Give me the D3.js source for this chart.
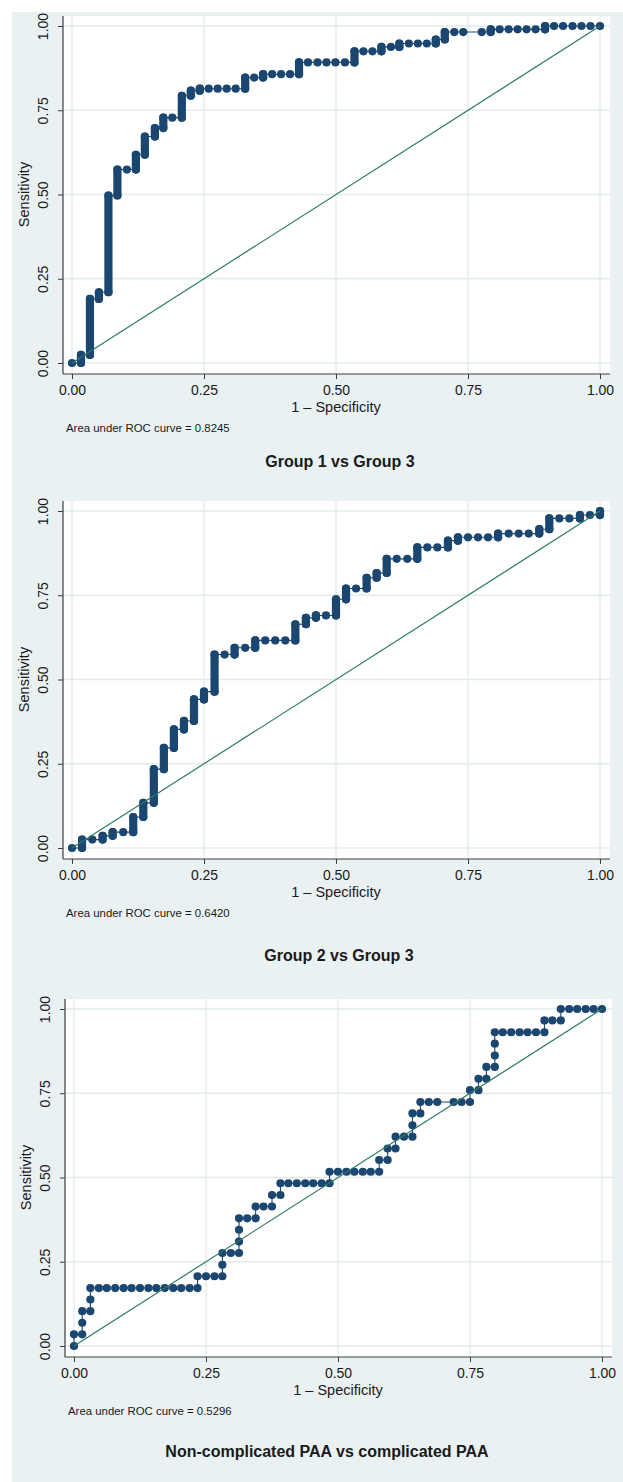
<!DOCTYPE html>
<html>
<head>
<meta charset="utf-8">
<script src="https://cdn.jsdelivr.net/npm/d3@7"></script>
<style>
    body { margin: 0; background: #fff; }
    text { font-family: "Liberation Sans", Arial, sans-serif; fill: #1a1a1a; }
</style>
</head>
<body>
<div id="chart-area"></div>
<script>

// axis ticks
var tickVals = [0, 0.25, 0.5, 0.75, 1];
var tickLabels = ['0.00', '0.25', '0.50', '0.75', '1.00'];

var titles = ['Group 1 vs Group 3', 'Group 2 vs Group 3', 'Non-complicated PAA vs complicated PAA'];
var aucLabels = ['Area under ROC curve = 0.8245', 'Area under ROC curve = 0.6420', 'Area under ROC curve = 0.5296'];

// [1 - specificity, sensitivity]
var roc1 = [
    [0,0],
    [0.017,0],[0.017,0.024],
    [0.034,0.024],[0.034,0.19],
    [0.051,0.19],[0.051,0.21],
    [0.069,0.21],[0.069,0.497],
    [0.086,0.497],[0.086,0.574],
    [0.104,0.574],
    [0.121,0.574],[0.121,0.618],
    [0.138,0.618],[0.138,0.672],
    [0.157,0.672],[0.157,0.697],
    [0.173,0.697],[0.173,0.728],
    [0.19,0.728],
    [0.208,0.728],[0.208,0.793],
    [0.225,0.793],[0.225,0.808],
    [0.242,0.808],[0.242,0.814],
    [0.259,0.814],[0.276,0.814],[0.293,0.814],[0.31,0.814],
    [0.328,0.814],[0.328,0.847],
    [0.345,0.847],
    [0.362,0.847],[0.362,0.857],
    [0.379,0.857],[0.396,0.857],[0.413,0.857],
    [0.43,0.857],[0.43,0.892],
    [0.447,0.892],[0.465,0.892],[0.482,0.892],[0.499,0.892],[0.517,0.892],
    [0.535,0.892],[0.535,0.925],
    [0.552,0.925],[0.569,0.925],
    [0.586,0.925],[0.586,0.938],
    [0.604,0.938],
    [0.62,0.938],[0.62,0.948],
    [0.638,0.948],[0.655,0.948],[0.672,0.948],
    [0.689,0.948],[0.689,0.96],
    [0.706,0.96],[0.706,0.982],
    [0.724,0.982],[0.741,0.982],[0.776,0.982],
    [0.793,0.982],[0.793,0.99],
    [0.81,0.99],[0.827,0.99],[0.844,0.99],[0.861,0.99],[0.878,0.99],
    [0.896,0.99],[0.896,1],
    [0.913,1],[0.93,1],[0.948,1],[0.965,1],[0.982,1],[1,1]
];

var roc2 = [
    [0,0],
    [0.019,0],[0.019,0.025],
    [0.0385,0.025],
    [0.058,0.025],[0.058,0.036],
    [0.077,0.036],[0.077,0.047],
    [0.097,0.047],
    [0.116,0.047],[0.116,0.092],
    [0.135,0.092],[0.135,0.134],
    [0.155,0.134],[0.155,0.234],
    [0.174,0.234],[0.174,0.297],
    [0.193,0.297],[0.193,0.352],
    [0.212,0.352],[0.212,0.377],
    [0.231,0.377],[0.231,0.441],
    [0.25,0.441],[0.25,0.464],
    [0.27,0.464],[0.27,0.574],
    [0.289,0.574],
    [0.308,0.574],[0.308,0.594],
    [0.328,0.594],
    [0.347,0.594],[0.347,0.616],
    [0.366,0.616],[0.385,0.616],[0.404,0.616],
    [0.423,0.616],[0.423,0.664],
    [0.443,0.664],[0.443,0.683],
    [0.462,0.683],[0.462,0.69],
    [0.481,0.69],
    [0.5,0.69],[0.5,0.738],
    [0.519,0.738],[0.519,0.77],
    [0.538,0.77],
    [0.558,0.77],[0.558,0.802],
    [0.577,0.802],[0.577,0.816],
    [0.596,0.816],[0.596,0.858],
    [0.615,0.858],[0.635,0.858],
    [0.654,0.858],[0.654,0.892],
    [0.673,0.892],[0.692,0.892],
    [0.712,0.892],[0.712,0.912],
    [0.731,0.912],[0.731,0.922],
    [0.75,0.922],[0.769,0.922],[0.788,0.922],
    [0.807,0.922],[0.807,0.933],
    [0.827,0.933],[0.846,0.933],[0.865,0.933],
    [0.885,0.933],[0.885,0.946],
    [0.904,0.946],[0.904,0.978],
    [0.923,0.978],[0.942,0.978],
    [0.962,0.978],[0.962,0.988],
    [0.981,0.988],
    [1,0.988],[1,1]
];

var roc3 = [
    [0,0],[0,0.0345],[0.0156,0.0345],[0.0156,0.069],[0.0156,0.1034],
    [0.031,0.1034],[0.031,0.138],[0.031,0.172],
    [0.047,0.172],[0.062,0.172],[0.078,0.172],[0.094,0.172],[0.109,0.172],[0.125,0.172],
    [0.141,0.172],[0.156,0.172],[0.172,0.172],[0.188,0.172],[0.203,0.172],[0.219,0.172],[0.234,0.172],
    [0.234,0.207],[0.25,0.207],[0.266,0.207],[0.281,0.207],[0.281,0.241],[0.281,0.276],
    [0.297,0.276],[0.3125,0.276],[0.3125,0.31],[0.3125,0.345],[0.3125,0.379],
    [0.328,0.379],[0.344,0.379],[0.344,0.414],[0.359,0.414],[0.375,0.414],[0.375,0.448],
    [0.391,0.448],[0.391,0.483],
    [0.406,0.483],[0.422,0.483],[0.438,0.483],[0.453,0.483],[0.469,0.483],[0.484,0.483],
    [0.484,0.517],[0.5,0.517],[0.516,0.517],[0.531,0.517],[0.547,0.517],[0.562,0.517],[0.578,0.517],
    [0.578,0.552],[0.594,0.552],[0.594,0.586],[0.609,0.586],[0.609,0.621],
    [0.625,0.621],[0.641,0.621],[0.641,0.655],[0.641,0.69],[0.656,0.69],[0.656,0.724],
    [0.672,0.724],[0.688,0.724],[0.719,0.724],[0.734,0.724],[0.75,0.724],[0.75,0.759],
    [0.766,0.759],[0.766,0.793],[0.781,0.793],[0.781,0.828],[0.797,0.828],
    [0.797,0.862],[0.797,0.897],[0.797,0.931],
    [0.812,0.931],[0.828,0.931],[0.844,0.931],[0.859,0.931],[0.875,0.931],[0.891,0.931],
    [0.891,0.966],[0.906,0.966],[0.922,0.966],[0.922,1],
    [0.938,1],[0.953,1],[0.969,1],[0.984,1],[1,1]
];

var def = {
    width: 623,
    height: 1482,
    plotW: 547,
    plotH: 358,
    navy: '#1a466f',
    green: '#2e7a64',
    bg: '#e9f1f3',
    grid: '#e2ebee',
    axis: '#3c3c3c',
    r: 4.1
};

var panels = [
    { data: roc1, dense: true,  left: 63, top: 16,  titleX: 340, titleY: 467 },
    { data: roc2, dense: true,  left: 63, top: 501, titleX: 339, titleY: 961 },
    { data: roc3, dense: false, left: 65, top: 999, titleX: 327, titleY: 1457 }
];

var svg = d3.select('#chart-area').append('svg')
    .attr('width', def.width)
    .attr('height', def.height);

// graph region
svg.append('rect')
    .attr('x', 12).attr('y', 12)
    .attr('width', def.width - 12)
    .attr('height', def.height - 12)
    .attr('fill', def.bg);

function drawPanel(p, i) {
    var g = svg.append('g');
    var bottom = p.top + def.plotH;

    var x = d3.scaleLinear().domain([0, 1]).range([p.left + 9, p.left + 537]);
    var y = d3.scaleLinear().domain([0, 1]).range([p.top + 347, p.top + 10]);

    g.append('rect')
        .attr('x', p.left).attr('y', p.top)
        .attr('width', def.plotW).attr('height', def.plotH)
        .attr('fill', '#fff');

    // grid
    g.selectAll('.gx').data(tickVals).enter().append('line')
        .attr('x1', d => x(d)).attr('x2', d => x(d))
        .attr('y1', p.top).attr('y2', bottom)
        .attr('stroke', def.grid).attr('stroke-width', 1.3);
    g.selectAll('.gy').data(tickVals).enter().append('line')
        .attr('y1', d => y(d)).attr('y2', d => y(d))
        .attr('x1', p.left).attr('x2', p.left + def.plotW)
        .attr('stroke', def.grid).attr('stroke-width', 1.3);

    // x axis
    var xAx = d3.axisBottom(x)
        .tickValues(tickVals)
        .tickFormat((d, k) => tickLabels[k])
        .tickSize(5)
        .tickPadding(6);
    var xg = g.append('g')
        .attr('transform', 'translate(0,' + bottom + ')')
        .call(xAx);
    xg.select('.domain').remove();
    xg.selectAll('line').attr('stroke', def.axis);
    xg.selectAll('text').attr('font-size', '14px').attr('fill', '#1a1a1a')
        .style('font-family', '"Liberation Sans", Arial, sans-serif');

    // y axis
    var yAx = d3.axisLeft(y)
        .tickValues(tickVals)
        .tickFormat((d, k) => tickLabels[k])
        .tickSize(5);
    var yg = g.append('g')
        .attr('transform', 'translate(' + p.left + ',0)')
        .call(yAx);
    yg.select('.domain').remove();
    yg.selectAll('line').attr('stroke', def.axis);
    yg.selectAll('text')
        .attr('x', 0).attr('dy', 0)
        .attr('text-anchor', 'middle')
        .attr('transform', 'translate(-15,0) rotate(-90)')
        .attr('font-size', '14px').attr('fill', '#1a1a1a')
        .style('font-family', '"Liberation Sans", Arial, sans-serif');

    // axis lines
    g.append('line')
        .attr('x1', p.left).attr('x2', p.left + def.plotW)
        .attr('y1', bottom).attr('y2', bottom)
        .attr('stroke', def.axis).attr('stroke-width', 1.2);
    g.append('line')
        .attr('x1', p.left).attr('x2', p.left)
        .attr('y1', p.top).attr('y2', bottom)
        .attr('stroke', def.axis).attr('stroke-width', 1.2);

    // labels
    g.append('text')
        .attr('x', x(0.5)).attr('y', bottom + 38)
        .attr('text-anchor', 'middle')
        .attr('font-size', '14.5px')
        .text('1 \u2013 Specificity');
    g.append('text')
        .attr('transform', 'translate(' + (p.left - 34) + ',' + y(0.5) + ') rotate(-90)')
        .attr('text-anchor', 'middle')
        .attr('font-size', '14.5px')
        .text('Sensitivity');
    g.append('text')
        .attr('x', p.left + 3).attr('y', bottom + 58)
        .attr('font-size', '11.4px')
        .text(aucLabels[i]);
    g.append('text')
        .attr('x', p.titleX).attr('y', p.titleY)
        .attr('text-anchor', 'middle')
        .attr('font-size', '16px')
        .attr('font-weight', 'bold')
        .text(titles[i]);

    // connecting line
    var line = d3.line().x(d => x(d[0])).y(d => y(d[1]));
    g.append('path')
        .datum(p.data)
        .attr('d', line)
        .attr('fill', 'none')
        .attr('stroke', def.navy)
        .attr('stroke-width', 1.1);

    // dense vertical runs of markers
    if (p.dense) {
        var runs = d3.pairs(p.data).filter(d => d[0][0] === d[1][0]);
        g.selectAll('.run').data(runs).enter().append('line')
            .attr('x1', d => x(d[0][0])).attr('x2', d => x(d[1][0]))
            .attr('y1', d => y(d[0][1])).attr('y2', d => y(d[1][1]))
            .attr('stroke', def.navy)
            .attr('stroke-width', def.r * 2)
            .attr('stroke-linecap', 'round');
    }

    g.selectAll('.pt').data(p.data).enter().append('circle')
        .attr('cx', d => x(d[0]))
        .attr('cy', d => y(d[1]))
        .attr('r', def.r)
        .attr('fill', def.navy);

    // reference line
    g.append('line')
        .attr('x1', x(0)).attr('y1', y(0))
        .attr('x2', x(1)).attr('y2', y(1))
        .attr('stroke', def.green)
        .attr('stroke-width', 1.2);
}

panels.forEach(drawPanel);

</script>
</body>
</html>
